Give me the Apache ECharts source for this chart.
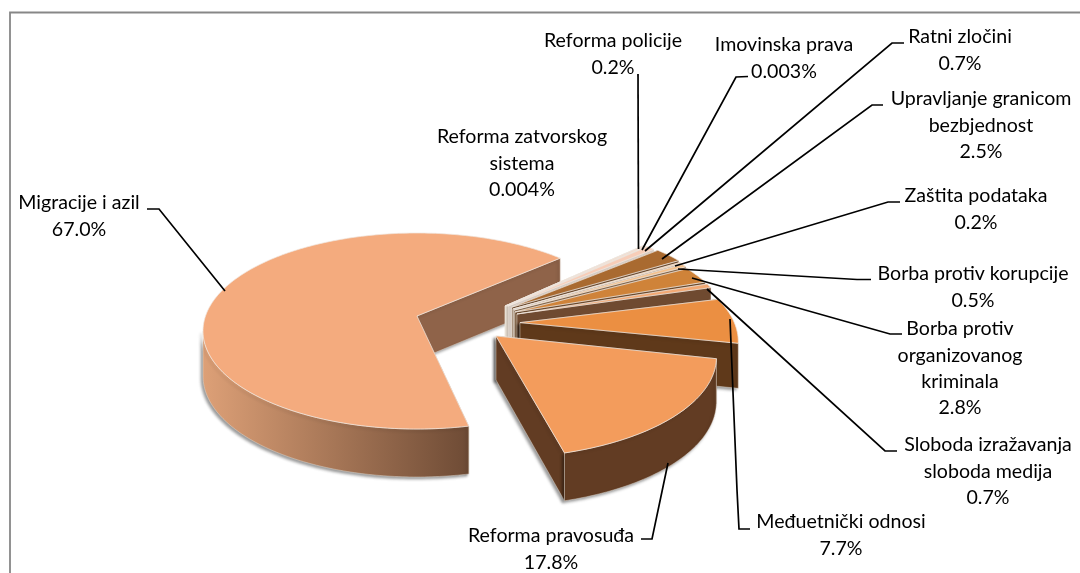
<!DOCTYPE html>
<html><head><meta charset="utf-8">
<style>html,body{margin:0;padding:0;background:#fff}#c{width:1080px;height:573px}</style>
<script src="https://cdn.jsdelivr.net/npm/echarts@6/dist/echarts.min.js"></script>
</head><body><div id="c"></div>
<script>
// ---- data (draw order: back to front) ----
const categories = [
  'Migracije i azil','Reforma zatvorskog sistema','Reforma policije','Imovinska prava','Ratni zločini',
  'Upravljanje granicom bezbjednost','Zaštita podataka','Borba protiv korupcije',
  'Borba protiv organizovanog kriminala','Sloboda izražavanja sloboda medija','Međuetnički odnosi','Reforma pravosuđa'];
const values = [67.0,0.004,0.2,0.003,0.7,2.5,0.2,0.5,2.8,0.7,7.7,17.8];
const percentLabels = ['67.0%','0.004%','0.2%','0.003%','0.7%','2.5%','0.2%','0.5%','2.8%','0.7%','7.7%','17.8%'];
const nameLines = [
  ['Migracije i azil'],['Reforma zatvorskog','sistema'],['Reforma policije'],['Imovinska prava'],['Ratni zločini'],
  ['Upravljanje granicom','bezbjednost'],['Zaštita podataka'],['Borba protiv korupcije'],
  ['Borba protiv','organizovanog','kriminala'],['Sloboda izražavanja','sloboda medija'],['Međuetnički odnosi'],['Reforma pravosuđa']];
// ---- style / layout ----
const topColors  = ['#F4AB7E','#FBE3D4','#F9D8C6','#B9B2AC','#F7CDB8','#A96A30','#F6CBA2','#F3C08C','#CF8339','#F2A873','#EB8F42','#F39C5C'];
const sideColors = ['#8F6349','#E4DCD6','#C8BDB4','#A8A099','#D6CCC4','#6E4E33','#A4917F','#85694F','#6B4A2E','#6F4A30','#5F391A','#623C23'];
const explodeX = [0,88,89,90,91,95,96,97,98,100,103,79];
const explodeY = [0,-10,-10,-10,-10,-9,-7,-6,-4,-2,10.6,26];
const apexLift = [-15,-15,-15,-15,-15,-15,-15,-15,-15,-15,-19,-21];
const sliceScale = [1,1,1,1,1,1,1,1,1,1,1.02,1.03];
const labelX = [79,522,613,784,960,981,976,973,960,988,841,551];
const labelY = [203,137,41,45,37,99,196,274,329,445,522,536];
const lineGap = 26.2;
const leaders = [
  [[147,209],[159,209],[225,291]], null, [[638,74],[638.5,249]], [[748,76.5],[736,77],[642,250]],
  [[904,43],[892,43],[645,251]], [[883,105],[872,105],[662,259]], [[900,202],[888,202],[675,266]],
  [[871,279.5],[857,279.5],[678,269]], [[902,334],[890,334],[692,278]], [[897,451],[885,451],[707,289]],
  [[750,529],[739,529],[737,490],[730,319]], [[641,539],[652,539],[668,463]]];
const CX=417, CY=331, RX=214, RY=98;
// perspective projection: share of the pie -> angle on the ellipse
const warpShare=[0,7.6,15.3,33.1,100], warpAngle=[-50,-25,1,72,312];
const MIGRACIJE_START=76;
function warp(s){for(let i=1;i<warpShare.length;i++){if(s<=warpShare[i]+1e-9){const t=(s-warpShare[i-1])/(warpShare[i]-warpShare[i-1]);return warpAngle[i-1]+t*(warpAngle[i]-warpAngle[i-1]);}}return warpAngle[warpAngle.length-1];}
const total=values.reduce((a,b)=>a+b,0);
const ranges=[];let acc=0;
for(let i=1;i<values.length;i++){const s=values[i]/total*100;ranges[i]=[acc,acc+s];acc+=s;}
ranges[0]=[acc,100];
const rad=a=>a*Math.PI/180;
function depth(a){return 45+3*Math.sin(rad(a));}
function renderSlice(params,api){
  const i=params.dataIndex;
  const a0=i===0?MIGRACIJE_START:warp(ranges[i][0]), a1=warp(ranges[i][1]);
  const k=sliceScale[i];
  const cx=CX+explodeX[i], cy=CY+explodeY[i], apex=[cx,cy+apexLift[i]];
  const pt=a=>[cx+k*RX*Math.cos(rad(a)),cy+k*RY*Math.sin(rad(a))];
  const down=(p,d)=>[p[0],p[1]+d];
  const arc=[];const n=Math.max(2,Math.ceil((a1-a0)));for(let j=0;j<=n;j++)arc.push(a0+(a1-a0)*j/n);
  const kids=[];
  const big=i===0||i>=10;
  const shadow=big?{shadowBlur:3,shadowColor:'rgba(0,0,0,0.4)',shadowOffsetX:-2,shadowOffsetY:2}:{};
  const sideStroke='rgba(235,225,215,0.7)';
  [a0,a1].forEach(a=>{const p=pt(a);kids.push({type:'polygon',shape:{points:[apex,p,down(p,depth(a)),down(apex,44)]},
    style:{fill:sideColors[i],stroke:sideStroke,lineWidth:0.6,...shadow}});});
  const wall=arc.filter(a=>Math.sin(rad(a))>=0&&((a%360)+360)%360<=180);
  if(wall.length>1){
    const up=wall.map(pt), lo=wall.slice().reverse().map(a=>down(pt(a),depth(a)));
    const fill=i===0?new echarts.graphic.LinearGradient(0,0,1,0,[{offset:0,color:'#DDA077'},{offset:1,color:'#6E4B35'}]):sideColors[i];
    kids.push({type:'polygon',shape:{points:up.concat(lo)},style:{fill:fill,stroke:sideStroke,lineWidth:0.6,...shadow}});
  }
  kids.push({type:'polygon',shape:{points:[apex].concat(arc.map(pt))},style:{fill:topColors[i],stroke:'rgba(240,232,225,0.9)',lineWidth:0.8}});
  return {type:'group',children:kids};
}
function renderLabel(params){
  const i=params.dataIndex, kids=[];
  if(leaders[i])kids.push({type:'polyline',shape:{points:leaders[i]},style:{fill:null,stroke:'#000',lineWidth:1.7}});
  nameLines[i].concat([percentLabels[i]]).forEach((t,j)=>{
    kids.push({type:'text',style:{text:t,x:labelX[i],y:labelY[i]+j*lineGap,align:'center',verticalAlign:'middle',
      fontFamily:'Lato',fontSize:19.6,fill:'#000'}});
  });
  return {type:'group',children:kids};
}
const chart=echarts.init(document.getElementById('c'),null,{renderer:'canvas'});
chart.setOption({
  animation:false,
  backgroundColor:'#fff',
  graphic:[{type:'rect',shape:{x:10,y:12.5,width:1200,height:800},style:{fill:'none',stroke:'#878787',lineWidth:1.8},silent:true}],
  series:[
    {type:'custom',coordinateSystem:'none',renderItem:renderSlice,data:values.map((v,i)=>({name:categories[i],value:[v]})),silent:true,z:2},
    {type:'custom',coordinateSystem:'none',renderItem:renderLabel,data:values.map((v,i)=>({name:categories[i],value:[v]})),silent:true,z:3}
  ]
});
</script></body></html>
